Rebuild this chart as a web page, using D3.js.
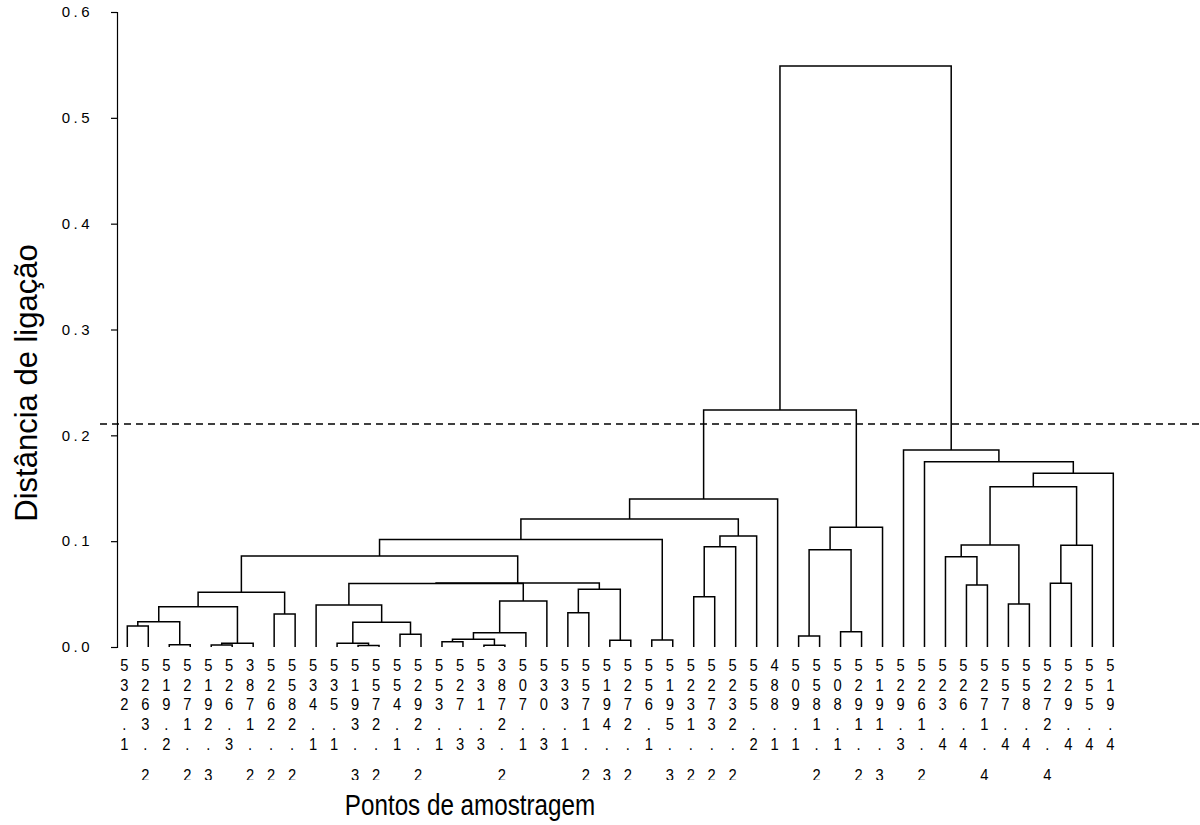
<!DOCTYPE html>
<html>
<head>
<meta charset="utf-8">
<script src="https://cdn.jsdelivr.net/npm/d3@7"></script>
<style>
  body { margin: 0; background: #fff; }
  svg { display: block; }
</style>
</head>
<body>
<svg id="chart" width="1200" height="825"></svg>
<script>
// Sampling point labels, in dendrogram leaf order
const leafLabels = [
  "532.1", "5263.2", "519.2", "5271.2", "5192.3", "526.3", "3871.2", "5262.2",
  "5582.2", "534.1", "535.1", "5193.3", "5572.2", "554.1", "5292.2", "553.1",
  "527.3", "531.3", "3872.2", "507.1", "530.3", "533.1", "5571.2", "5194.3",
  "5272.2", "556.1", "5195.3", "5231.2", "5273.2", "5232.2", "555.2", "488.1",
  "509.1", "5581.2", "508.1", "5291.2", "5191.3", "529.3", "5261.2", "523.4",
  "526.4", "5271.4", "557.4", "558.4", "5272.4", "529.4", "555.4", "519.4"
];

// Agglomeration steps: [left, right, height]
// negative = leaf number (1-based), positive = earlier step (1-based)
const mergeLeft = [
  -1, -3, 1, -5, 4, 3, -8, 6, -12, -11, -14, 10, -10, -16, -18, 14, 16, 17, 13, -22,
  -24, 20, 19, 8, -26, 24, -28, 27, 28, 26, 30, -33, -35, 32, 34, 31, -41, -40, -43, 38,
  -45, 41, 40, 43, -39, -38, 36
];
const mergeRight = [
  -2, -4, 2, -6, -7, 5, -9, 7, -13, 9, -15, 11, 12, -17, -19, 15, -20, -21, 18, -23,
  -25, 21, 22, 23, -27, 25, -29, -30, -31, 29, -32, -34, -36, 33, -37, 35, -42, 37, -44, 39,
  -46, -47, 42, -48, 44, 45, 46
];
const mergeHeight = [
  0.0198, 0.0022, 0.0239, 0.0019, 0.0035, 0.0381, 0.0312, 0.0517, 0.0014, 0.0035,
  0.0120, 0.0233, 0.0397, 0.0050, 0.0016, 0.0073, 0.0135, 0.0435, 0.0600, 0.0324,
  0.0063, 0.0545, 0.0605, 0.0860, 0.0066, 0.1016, 0.0475, 0.0948, 0.1049, 0.1209,
  0.1398, 0.0104, 0.0145, 0.0919, 0.1131, 0.2239, 0.0586, 0.0853, 0.0406, 0.0964,
  0.0602, 0.0962, 0.1515, 0.1641, 0.1751, 0.1861, 0.5490
];

const yTicks = [0, 0.1, 0.2, 0.3, 0.4, 0.5, 0.6];
const cutHeight = 0.2107;

const yTitle = "Distância de ligação";
const xTitle = "Pontos de amostragem";

// ---- layout ----
const svg = d3.select("#chart");
const FONT = "'Liberation Sans', Arial, Helvetica, sans-serif";

const y = d3.scaleLinear().domain([0, 0.6]).range([647, 12]);
const x = d3.scalePoint().domain(d3.range(leafLabels.length)).range([127.3, 1113.3]);

// build nested tree from the merge table
function build(id) {
  if (id < 0) return { leaf: -id - 1, height: 0 };
  const k = id - 1;
  return { height: mergeHeight[k], children: [build(mergeLeft[k]), build(mergeRight[k])] };
}
const root = d3.hierarchy(build(mergeLeft.length));

// leaf positions from the point scale, internal nodes at the midpoint of their children
root.eachAfter(n => {
  n.px = n.children ? d3.mean(n.children, c => c.px) : x(n.data.leaf);
  n.py = y(n.data.height);
});

// elbow links
const links = svg.append("g")
  .attr("fill", "none")
  .attr("stroke", "#000")
  .attr("stroke-width", 1.5);

root.descendants().filter(n => n.children).forEach(n => {
  const [a, b] = n.children;
  const p = d3.path();
  p.moveTo(a.px, a.py);
  p.lineTo(a.px, n.py);
  p.lineTo(b.px, n.py);
  p.lineTo(b.px, b.py);
  links.append("path").attr("d", p.toString());
});

// cut line
svg.append("line")
  .attr("x1", 100).attr("x2", 1200)
  .attr("y1", y(cutHeight)).attr("y2", y(cutHeight))
  .attr("stroke", "#000").attr("stroke-width", 1.5)
  .attr("stroke-dasharray", "7,5");

// y axis
const axis = svg.append("g")
  .attr("transform", "translate(117,0)")
  .call(d3.axisLeft(y).tickValues(yTicks).tickSize(6).tickPadding(18)
    .tickFormat(d => d.toFixed(1)));
axis.attr("font-size", null).attr("font-family", null);
axis.select(".domain").attr("stroke", "#000").attr("stroke-width", 1.2);
axis.selectAll(".tick line").attr("stroke", "#000").attr("stroke-width", 1.2);
axis.selectAll(".tick text")
  .style("font-family", FONT)
  .style("font-size", "15px")
  .style("letter-spacing", "3.5px")
  .attr("fill", "#000");

// leaf labels, stacked one character per row, cut off at the bottom
svg.append("clipPath").attr("id", "labelClip")
  .append("rect").attr("x", 0).attr("y", 650).attr("width", 1200).attr("height", 130);

const rowY = [671, 691, 710, 730, 750, 781];
const labelG = svg.append("g").attr("clip-path", "url(#labelClip)");
leafLabels.forEach((lab, i) => {
  lab.split("").forEach((ch, r) => {
    labelG.append("text")
      .attr("transform", `translate(${x(i) - 3},${rowY[r]}) scale(0.92,1)`)
      .attr("text-anchor", "middle")
      .style("font-family", FONT)
      .style("font-size", "16px")
      .attr("fill", "#000")
      .text(ch);
  });
});

// axis titles
svg.append("text")
  .attr("transform", "translate(37,383) rotate(-90)")
  .attr("text-anchor", "middle")
  .style("font-family", FONT)
  .style("font-size", "31px")
  .attr("fill", "#000")
  .text(yTitle);

svg.append("text")
  .attr("transform", "translate(470,815) scale(0.835,1)")
  .attr("text-anchor", "middle")
  .style("font-family", FONT)
  .style("font-size", "29px")
  .attr("fill", "#000")
  .text(xTitle);
</script>
</body>
</html>
